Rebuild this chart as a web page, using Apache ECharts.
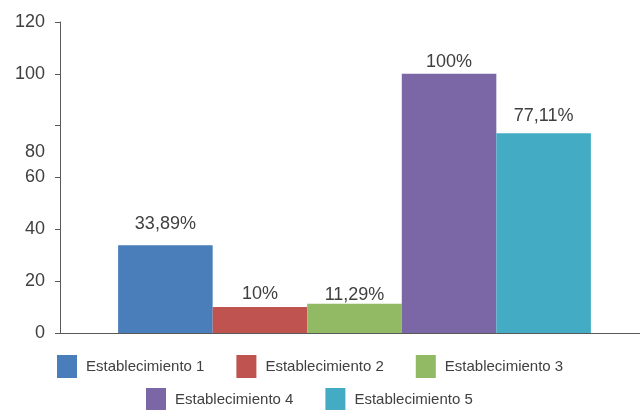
<!DOCTYPE html>
<html><head><meta charset="utf-8">
<script src="https://cdn.jsdelivr.net/npm/echarts@6/dist/echarts.min.js"></script>
<style>html,body{margin:0;padding:0;background:#fff}#c{width:640px;height:410px}</style>
</head><body><div id="c"></div>
<script>
const categories = ['Establecimiento 1','Establecimiento 2','Establecimiento 3','Establecimiento 4','Establecimiento 5'];
const values = [33.89, 10, 11.29, 100, 77.11];
const colors = ['#4a7ebb','#be5350','#92b964','#7b66a6','#43acc4'];
const yTickLabels = ['0','20','40','60','80','100','120'];
const labelGaps = [12, 4, 0, 3, 8];
const FONT = 'Liberation Sans';
const TXT = '#404040';

const series = categories.map((name, i) => ({
  name, type: 'bar', barGap: '0%', barCategoryGap: '17.2%',
  itemStyle: { color: colors[i] },
  data: [values[i]],
  label: { show: true, position: 'top', distance: labelGaps[i], color: TXT, fontFamily: FONT, fontSize: 18,
    formatter: p => String(p.value).replace('.', ',') + '%' }
}));

const legendCommon = {
  itemWidth: 20, itemHeight: 23, itemGap: 32, icon: 'rect', padding: 0,
  textStyle: { color: TXT, fontFamily: FONT, fontSize: 15, padding: [0,0,0,4] }
};

const chart = echarts.init(document.getElementById('c'));
chart.setOption({
  animation: false,
  grid: [
    { left: 69, right: 0, top: 22, height: 311 },
    { left: 60, right: 0, top: 22, height: 311 }
  ],
  legend: [
    Object.assign({ data: categories.slice(0,3), left: 57, top: 355 }, legendCommon),
    Object.assign({ data: categories.slice(3), left: 146, top: 388 }, legendCommon)
  ],
  xAxis: [
    { type: 'category', data: [''], axisTick: { show: false }, axisLabel: { show: false },
      axisLine: { show: false } },
    { gridIndex: 1, type: 'category', data: [''], axisTick: { show: false }, axisLabel: { show: false },
      axisLine: { show: true, lineStyle: { color: '#595959', width: 1 } } }
  ],
  yAxis: [
    { type: 'value', min: 0, max: 120, interval: 20, offset: 9, splitLine: { show: false },
      axisLine: { show: true, lineStyle: { color: '#595959' } },
      axisTick: { show: true, length: 5, lineStyle: { color: '#595959' } },
      axisLabel: { margin: 15, color: TXT, fontFamily: FONT, fontSize: 18,
        formatter: v => { const s = yTickLabels[Math.round(v/20)]; return v === 80 ? '{d|' + s + '}' : s; },
        rich: { d: { color: TXT, fontFamily: FONT, fontSize: 18, padding: [52,0,0,0] } } } },
    { gridIndex: 1, type: 'value', min: 0, max: 120, show: false, splitLine: { show: false } }
  ],
  series
});
</script></body></html>
